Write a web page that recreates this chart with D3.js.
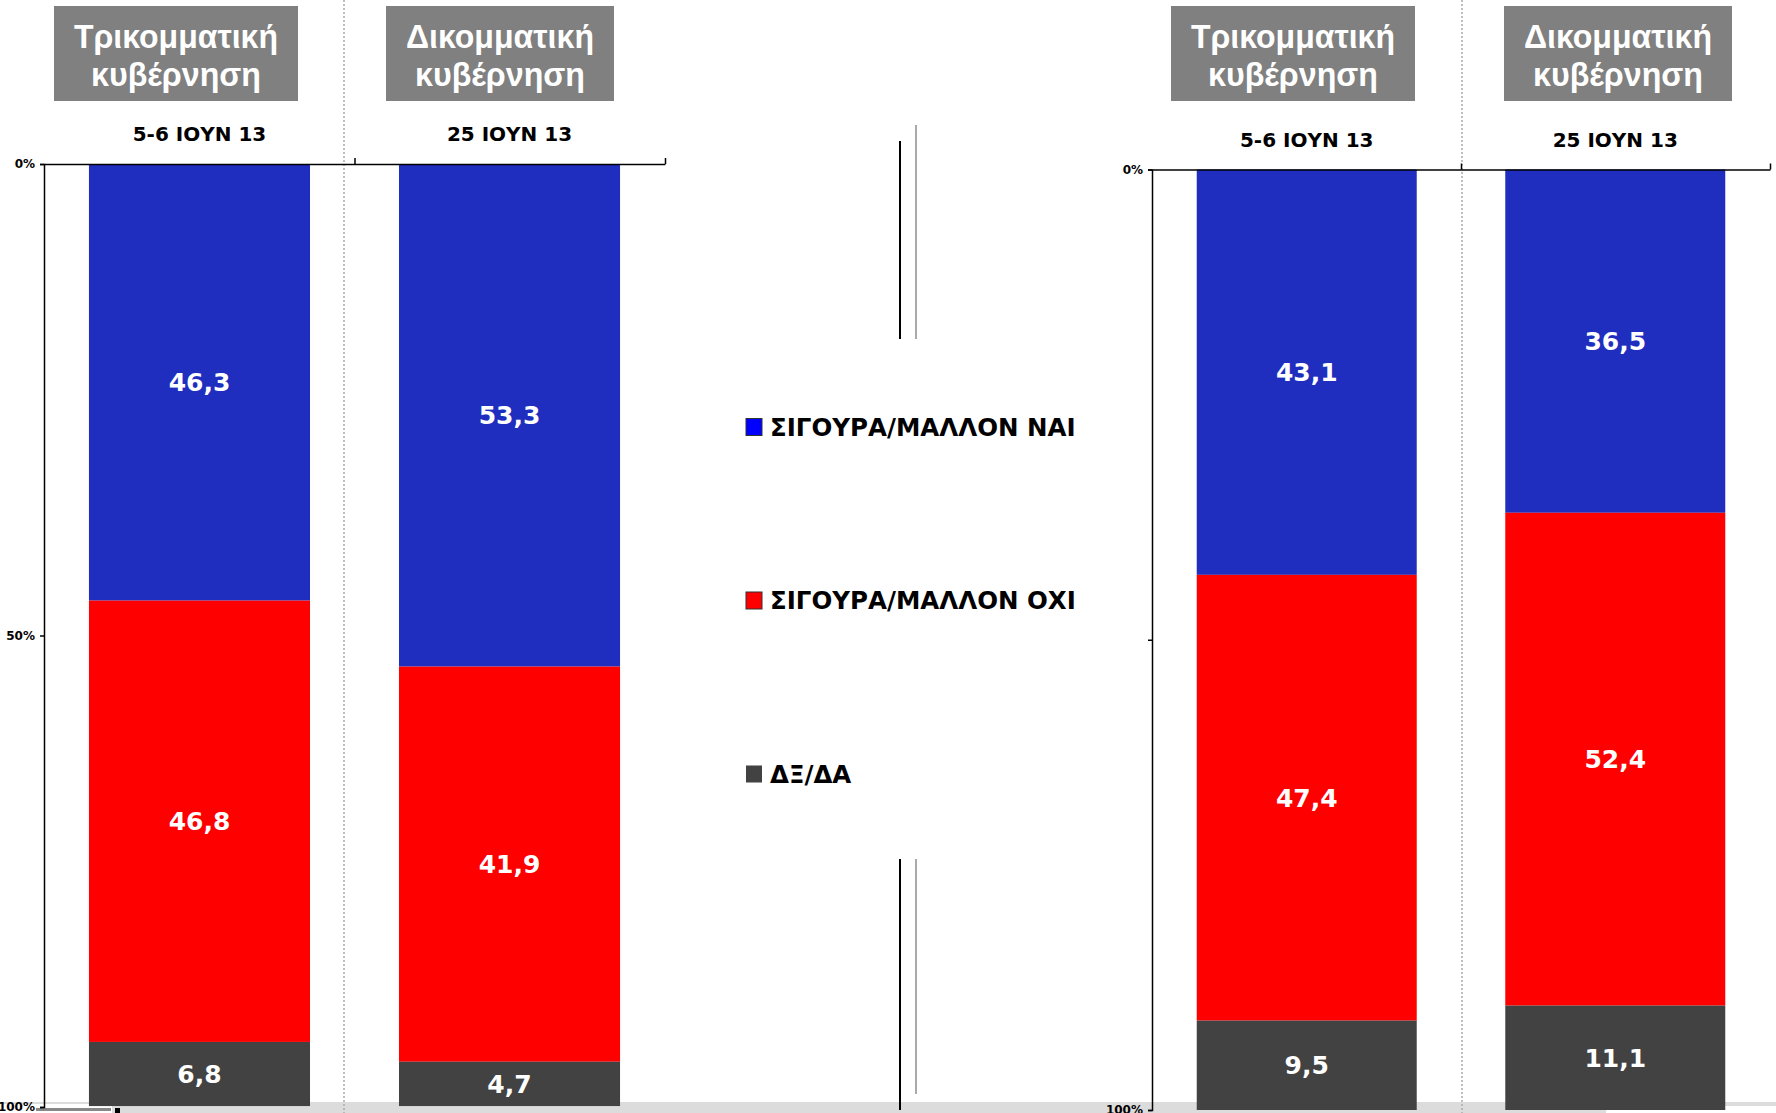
<!DOCTYPE html>
<html>
<head>
<meta charset="utf-8">
<script src="https://cdn.jsdelivr.net/npm/d3@7"></script>
<style>
  html, body { margin: 0; padding: 0; background: #fff; overflow: hidden; }
  svg { display: block; }
</style>
</head>
<body>
<svg id="chart" width="1776" height="1113"></svg>
<script>
// ---------------- DATA ----------------
const groupTitlesL1 = ["Τρικομματική", "Δικομματική", "Τρικομματική", "Δικομματική"];
const groupTitlesL2 = ["κυβέρνηση", "κυβέρνηση", "κυβέρνηση", "κυβέρνηση"];
const dateLabels = ["5-6 ΙΟΥΝ 13", "25 ΙΟΥΝ 13", "5-6 ΙΟΥΝ 13", "25 ΙΟΥΝ 13"];
const panelOfBar = [0, 0, 1, 1];
const seriesNames = ["ΣΙΓΟΥΡΑ/ΜΑΛΛΟΝ ΝΑΙ", "ΣΙΓΟΥΡΑ/ΜΑΛΛΟΝ ΟΧΙ", "ΔΞ/ΔΑ"];
const yesValues = [46.3, 53.3, 43.1, 36.5];
const noValues  = [46.8, 41.9, 47.4, 52.4];
const dkValues  = [6.8, 4.7, 9.5, 11.1];
const tickValues = [0, 50, 100];
const tickLabels = ["0%", "50%", "100%"];

// ---------------- STYLE ----------------
const barColors = ["#1f2ebf", "#ff0000", "#424242"];
const legendColors = ["#0000ff", "#ff0000", "#424242"];
const numFont = "'DejaVu Sans', Verdana, sans-serif";
const headFont = "'Liberation Sans', Arial, sans-serif";

const svg = d3.select("#chart");

// bottom band (slide artefact)
svg.append("rect").attr("x", 0).attr("y", 1102).attr("width", 1776).attr("height", 11).attr("fill", "#dcdcdc");
svg.append("rect").attr("x", 1606).attr("y", 1106).attr("width", 170).attr("height", 7).attr("fill", "#fff");
svg.append("rect").attr("x", 0).attr("y", 1104).attr("width", 112).attr("height", 9).attr("fill", "#fff");
svg.append("rect").attr("x", 36).attr("y", 1108).attr("width", 75).attr("height", 3).attr("fill", "#888");
svg.append("rect").attr("x", 115).attr("y", 1108).attr("width", 5).attr("height", 5).attr("fill", "#000");

// dotted separators
[344, 1462].forEach(x => {
  svg.append("line").attr("x1", x).attr("x2", x).attr("y1", 0).attr("y2", 1113)
    .attr("stroke", "#aaa").attr("stroke-width", 1.5).attr("stroke-dasharray", "2,2");
});

// panels layout
const panels = [
  { x0: 44, x1: 665, y0: 164, y1: 1107, showMid: true },
  { x0: 1152, x1: 1770, y0: 169.5, y1: 1110, showMid: false }
];

const stackData = yesValues.map((v, i) => ({ idx: i, yes: v, no: noValues[i], dk: dkValues[i] }));
const stack = d3.stack().keys(["yes", "no", "dk"]);

panels.forEach((p, pi) => {
  const barsHere = stackData.filter(d => panelOfBar[d.idx] === pi);
  const x = d3.scaleBand().domain(barsHere.map(d => d.idx)).range([p.x0, p.x1])
    .paddingInner(0.287).paddingOuter(0.145);
  const y = d3.scaleLinear().domain([0, 100]).range([p.y0, p.y1]);

  const series = stack(barsHere);
  const g = svg.append("g");
  series.forEach((s, si) => {
    g.selectAll(null).data(s).enter().append("rect")
      .attr("x", d => x(d.data.idx))
      .attr("width", x.bandwidth())
      .attr("y", d => y(d[0]))
      .attr("height", d => y(d[1]) - y(d[0]))
      .attr("fill", barColors[si]);
    g.selectAll(null).data(s).enter().append("text")
      .attr("x", d => x(d.data.idx) + x.bandwidth() / 2)
      .attr("y", d => (y(d[0]) + y(d[1])) / 2)
      .attr("dy", "0.36em")
      .attr("text-anchor", "middle")
      .attr("font-family", numFont).attr("font-weight", "bold").attr("font-size", 25)
      .attr("fill", "#fff")
      .text(d => d3.format(".1f")(d[1] - d[0]).replace(".", ","));
  });

  // y axis
  const yAxis = d3.axisLeft(y).tickValues(tickValues).tickSize(4).tickPadding(5)
    .tickFormat(d => (!p.showMid && d === 50) ? "" : tickLabels[tickValues.indexOf(d)]);
  const ga = svg.append("g").attr("transform", `translate(${p.x0},0)`).call(yAxis);
  ga.select(".domain").attr("stroke", "#000").attr("stroke-width", 1.5);
  ga.selectAll(".tick line").attr("stroke", "#000").attr("stroke-width", 1.5);
  ga.selectAll(".tick text").attr("font-family", numFont).attr("font-weight", "bold")
    .attr("font-size", 12).attr("fill", "#000");

  // top axis with ticks at band boundaries
  const step = x.step();
  const bounds = barsHere.slice(0, -1).map(d => x(d.idx) + x.bandwidth() + (step - x.bandwidth()) / 2);
  bounds.push(p.x1);
  const xl = d3.scaleLinear().domain([p.x0, p.x1]).range([p.x0, p.x1]);
  const topAxis = d3.axisTop(xl).tickValues(bounds).tickSize(6).tickSizeOuter(0).tickFormat("");
  const gt = svg.append("g").attr("transform", `translate(0,${p.y0})`).call(topAxis);
  gt.select(".domain").attr("stroke", "#000").attr("stroke-width", 1.5);
  gt.selectAll(".tick line").attr("stroke", "#000").attr("stroke-width", 1.5);

  // date labels
  svg.selectAll(null).data(barsHere).enter().append("text")
    .attr("x", d => x(d.idx) + x.bandwidth() / 2)
    .attr("y", p.y0 - 23)
    .attr("text-anchor", "middle")
    .attr("font-family", numFont).attr("font-weight", "bold").attr("font-size", 20)
    .attr("fill", "#000")
    .text(d => dateLabels[d.idx]);
});

// header boxes
const headerBoxes = [
  { x: 54, w: 244 }, { x: 386, w: 228 }, { x: 1171, w: 244 }, { x: 1504, w: 228 }
];
headerBoxes.forEach((b, i) => {
  svg.append("rect").attr("x", b.x).attr("y", 6).attr("width", b.w).attr("height", 95).attr("fill", "#808080");
  const cx = b.x + b.w / 2;
  svg.append("text").attr("x", cx).attr("y", 48).attr("text-anchor", "middle")
    .attr("font-family", headFont).attr("font-weight", "bold").attr("font-size", 34)
    .attr("textLength", i % 2 === 0 ? 204 : 188).attr("lengthAdjust", "spacingAndGlyphs")
    .attr("fill", "#fff").text(groupTitlesL1[i]);
  svg.append("text").attr("x", cx).attr("y", 86).attr("text-anchor", "middle")
    .attr("font-family", headFont).attr("font-weight", "bold").attr("font-size", 34)
    .attr("textLength", 170).attr("lengthAdjust", "spacingAndGlyphs")
    .attr("fill", "#fff").text(groupTitlesL2[i]);
});

// middle break lines
const vlines = [
  { x: 900, y1: 141, y2: 339, c: "#000" }, { x: 916, y1: 125, y2: 339, c: "#aaa" },
  { x: 900, y1: 859, y2: 1110, c: "#000" }, { x: 916, y1: 859, y2: 1094, c: "#aaa" }
];
vlines.forEach(l => svg.append("line").attr("x1", l.x).attr("x2", l.x).attr("y1", l.y1).attr("y2", l.y2)
  .attr("stroke", l.c).attr("stroke-width", 2));

// legend
const legendY = d3.scalePoint().domain(seriesNames).range([427, 774]);
const lg = svg.append("g");
seriesNames.forEach((n, i) => {
  lg.append("rect").attr("x", 746).attr("y", legendY(n) - 8.5).attr("width", 16).attr("height", 17)
    .attr("fill", legendColors[i]).attr("stroke", i < 2 ? "#333" : "none").attr("stroke-width", 1);
  lg.append("text").attr("x", 770).attr("y", legendY(n)).attr("dy", "0.36em")
    .attr("font-family", numFont).attr("font-weight", "bold").attr("font-size", 24.5)
    .attr("fill", "#000").text(n);
});
</script>
</body>
</html>
